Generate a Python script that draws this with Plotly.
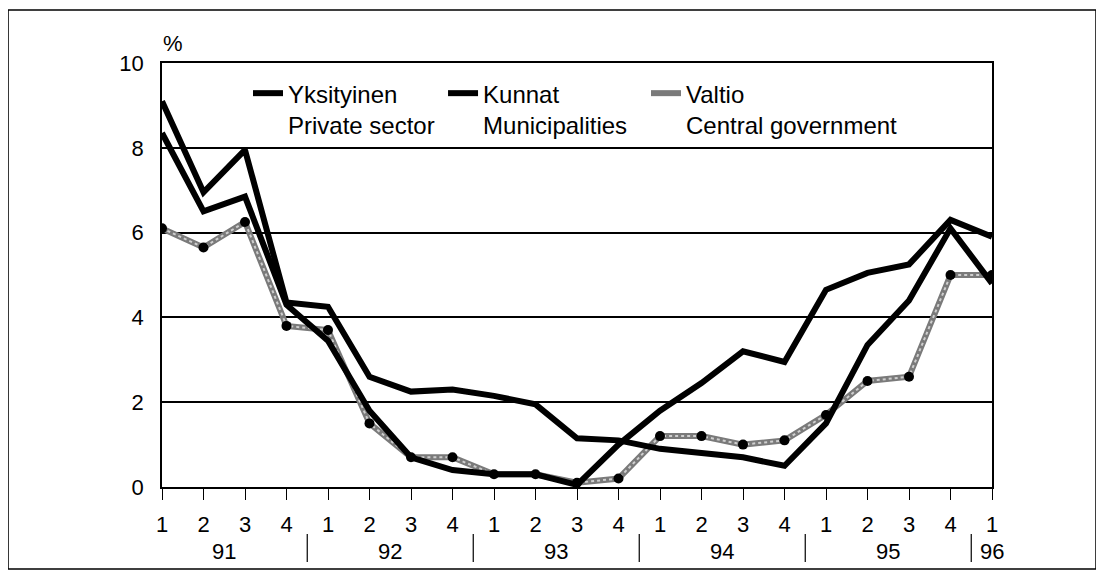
import plotly.graph_objects as go

quarters = ["1", "2", "3", "4", "1", "2", "3", "4", "1", "2", "3", "4",
            "1", "2", "3", "4", "1", "2", "3", "4", "1"]
years = ["91", "91", "91", "91", "92", "92", "92", "92", "93", "93", "93", "93",
         "94", "94", "94", "94", "95", "95", "95", "95", "96"]

yksityinen = [9.1, 6.95, 7.95, 4.35, 4.25, 2.6, 2.25, 2.3, 2.15, 1.95, 1.15,
              1.1, 0.9, 0.8, 0.7, 0.5, 1.5, 3.35, 4.4, 6.1, 4.8]
kunnat = [8.35, 6.5, 6.85, 4.3, 3.45, 1.8, 0.7, 0.4, 0.3, 0.3, 0.05,
          1.0, 1.8, 2.45, 3.2, 2.95, 4.65, 5.05, 5.25, 6.3, 5.9]
valtio = [6.1, 5.65, 6.25, 3.8, 3.7, 1.5, 0.7, 0.7, 0.3, 0.3, 0.1,
          0.2, 1.2, 1.2, 1.0, 1.1, 1.7, 2.5, 2.6, 5.0, 5.0]

names = ["Yksityinen<br>Private sector", "Kunnat<br>Municipalities",
         "Valtio<br>Central government"]
y_ticks = [0, 2, 4, 6, 8, 10]

x = list(range(len(quarters)))
FONT = "Liberation Sans, Arial, Helvetica, sans-serif"

fig = go.Figure()

# Valtio (drawn first, beneath the black lines)
fig.add_trace(go.Scatter(
    x=x, y=valtio, mode="lines", name=names[2], legend="legend3",
    line=dict(color="#7a7a7a", width=6),
))
fig.add_trace(go.Scatter(
    x=x, y=valtio, mode="lines", showlegend=False, hoverinfo="skip",
    line=dict(color="#cfcfcf", width=2, dash="dot"),
))
fig.add_trace(go.Scatter(
    x=x, y=valtio, mode="markers", showlegend=False,
    marker=dict(color="black", size=10),
))
fig.add_trace(go.Scatter(
    x=x, y=kunnat, mode="lines", name=names[1], legend="legend2",
    line=dict(color="black", width=6),
))
fig.add_trace(go.Scatter(
    x=x, y=yksityinen, mode="lines", name=names[0], legend="legend",
    line=dict(color="black", width=6),
))

# year labels and dividers
uniq_years = []
for yv in years:
    if yv not in uniq_years:
        uniq_years.append(yv)
annotations = []
shapes = []
for yv in uniq_years:
    idx = [i for i, v in enumerate(years) if v == yv]
    annotations.append(dict(
        x=sum(idx) / len(idx), y=-0.153, xref="x", yref="paper",
        text=yv, showarrow=False, yanchor="middle", xanchor="center",
        font=dict(family=FONT, size=22, color="black")))
    if idx[0] > 0:
        shapes.append(dict(
            type="line", xref="x", yref="paper",
            x0=idx[0] - 0.5, x1=idx[0] - 0.5, y0=-0.111, y1=-0.177,
            line=dict(color="black", width=1.2)))

annotations.append(dict(
    x=0.0133, y=1.047, xref="paper", yref="paper", text="%",
    xanchor="center", yanchor="middle",
    showarrow=False, font=dict(family=FONT, size=22, color="black")))

# outer frame
shapes.append(dict(
    type="rect", xref="paper", yref="paper",
    x0=-0.1855, x1=1.1253, y0=-0.1934, y1=1.125,
    line=dict(color="black", width=1.5)))

leg = dict(
    orientation="h", y=0.981, xanchor="left", yanchor="top",
    font=dict(family=FONT, size=24, color="black"),
    valign="top", bgcolor="rgba(0,0,0,0)",
)

fig.update_layout(
    width=1096, height=568,
    margin=dict(l=154, r=112, t=55, b=89),
    paper_bgcolor="white", plot_bgcolor="white",
    font=dict(family=FONT, size=22, color="black"),
    showlegend=True,
    legend=dict(leg, x=0.1036),
    legend2=dict(leg, x=0.3386),
    legend3=dict(leg, x=0.5831),
    xaxis=dict(
        range=[0, 20], tickmode="array", tickvals=x, ticktext=quarters,
        ticks="outside", ticklen=11, tickwidth=1.2, tickcolor="black",
        showgrid=False, zeroline=False,
        showline=True, linecolor="black", linewidth=1.5, mirror=True,
        ticklabelstandoff=6,
        tickfont=dict(family=FONT, size=22, color="black"),
    ),
    yaxis=dict(
        range=[0, 10], tickmode="array", tickvals=y_ticks,
        ticks="", showgrid=True, gridcolor="black", gridwidth=1.5,
        zeroline=False,
        showline=True, linecolor="black", linewidth=1.5, mirror=True,
        ticklabelstandoff=12,
        tickfont=dict(family=FONT, size=22, color="black"),
    ),
    annotations=annotations,
    shapes=shapes,
)

fig.write_html("out.html")
